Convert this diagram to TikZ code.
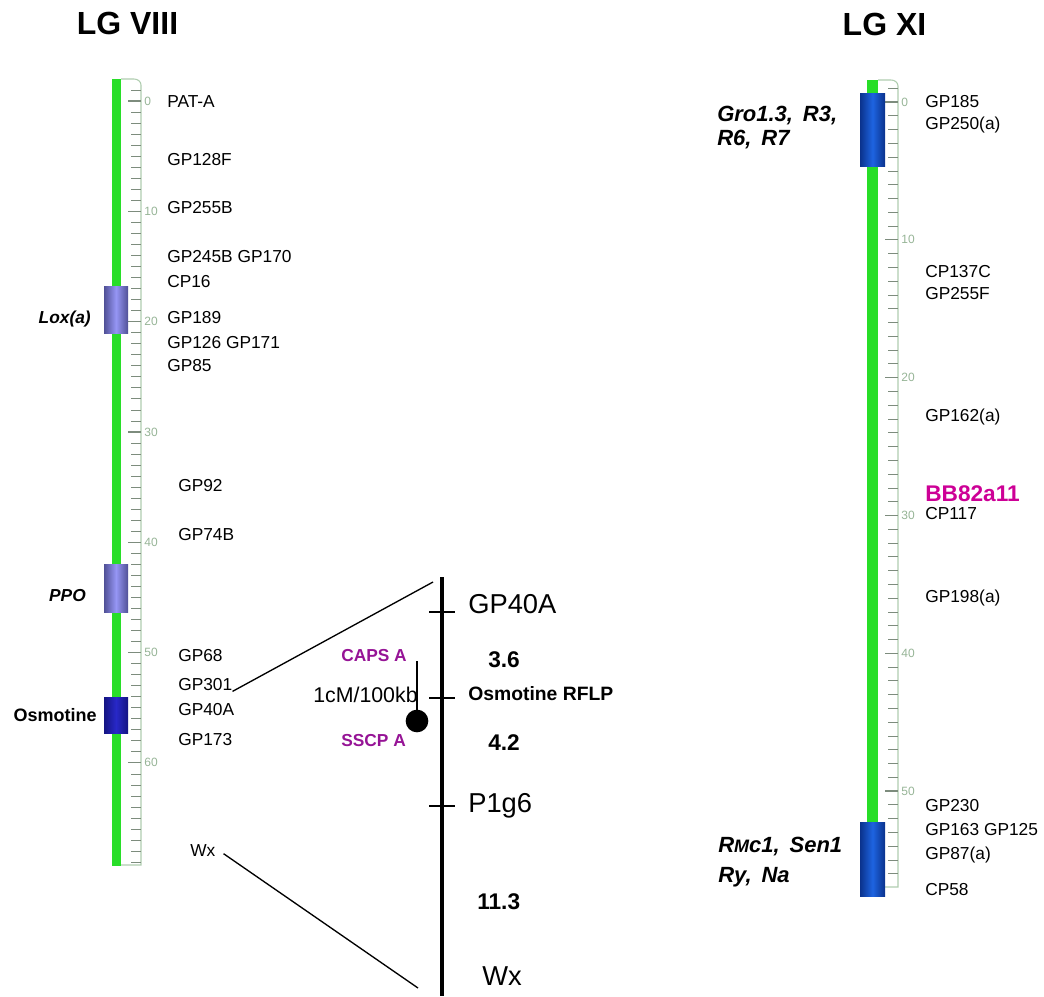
\documentclass[tikz,border=0pt]{standalone}
\usepackage{fontspec}
\setmainfont{Liberation Sans}
\definecolor{chromgreen}{RGB}{40,222,40}
\definecolor{rulergreen}{RGB}{175,205,175}
\definecolor{tickgray}{RGB}{125,140,125}
\definecolor{numgreen}{RGB}{150,180,150}
\definecolor{paleedge}{RGB}{80,80,150}
\definecolor{palemid}{RGB}{150,150,245}
\definecolor{osmedge}{RGB}{20,20,130}
\definecolor{osmmid}{RGB}{40,40,200}
\definecolor{resedge}{RGB}{10,50,140}
\definecolor{resmid}{RGB}{30,100,225}
\definecolor{capspurple}{RGB}{150,20,150}
\definecolor{bbmagenta}{RGB}{205,0,150}
\tikzset{
  marker/.style={anchor=west,inner sep=0pt,font=\fontsize{13}{15}\selectfont},
  gene/.style={anchor=east,inner sep=0pt,font=\fontsize{13}{15}\selectfont\bfseries\itshape},
  resgene/.style={anchor=west,inner sep=0pt,font=\fontsize{16.5}{18}\selectfont\bfseries\itshape},
  cmnum/.style={anchor=west,inner sep=0pt,text=numgreen,font=\fontsize{9}{9}\selectfont},
  ruler/.style={draw=rulergreen,line width=0.8pt},
  tick/.style={draw=tickgray,line width=0.5pt},
  bigtick/.style={draw=tickgray,line width=1pt},
  zoomlabel/.style={anchor=west,inner sep=0pt,font=\fontsize{20.5}{22}\selectfont},
  dist/.style={anchor=west,inner sep=0pt,font=\fontsize{17}{19}\selectfont\bfseries},
  snplabel/.style={anchor=west,inner sep=0pt,text=capspurple,font=\fontsize{13}{15}\selectfont\bfseries},
  title/.style={inner sep=0pt,font=\fontsize{24}{28}\selectfont\bfseries}
}
\begin{document}
\begin{tikzpicture}[x=0.75pt,y=-0.75pt]
    \useasboundingbox (0,0) rectangle (1044,996);
    % titles
    \node[title] (lg8) at (127.5,23) {LG VIII};
    \node[title] (lg11) at (884.5,24) {LG XI};
    % LG VIII
    \fill[chromgreen] (112,79) rectangle (121,866);% chromosome bar
    \draw[ruler] (121,79) -- (134,79) to[out=0,in=90] (141,85) -- (141,865) -- (121,865);% ruler
    \foreach \c in {-1,...,69}
        \draw[tick] (131,{101+11.03*\c}) -- (141,{101+11.03*\c});
    \foreach \c in {0,10,...,60}
        \draw[bigtick] (128,{101+11.03*\c}) -- (141,{101+11.03*\c}) node[cmnum,xshift=2pt] (n8-\c) {\c};
    \shade[left color=paleedge,right color=paleedge,middle color=palemid] (104,286) rectangle (128,333);% Lox(a) box
    \shade[left color=paleedge,right color=paleedge,middle color=palemid] (104,564) rectangle (128,612);% PPO box
    \shade[left color=osmedge,right color=osmedge,middle color=osmmid] (104,697) rectangle (128,733);% Osmotine box
    \node[gene] (lox) at (91,319) {Lox(a)};
    \node[gene] (ppo) at (86,596) {PPO};
    \node[gene,font=\fontsize{13.5}{15}\selectfont\bfseries] (osm) at (97,715) {Osmotine};
    \node[marker] (pata) at (167,102) {PAT-A};
    \node[marker] (gp128f) at (167,160) {GP128F};
    \node[marker] (gp255b) at (167,208) {GP255B};
    \node[marker] (gp245b) at (167,257) {GP245B GP170};
    \node[marker] (cp16) at (167,282) {CP16};
    \node[marker] (gp189) at (167,318) {GP189};
    \node[marker] (gp126) at (167,343) {GP126 GP171};
    \node[marker] (gp85) at (167,366) {GP85};
    \node[marker] (gp92) at (178,486) {GP92};
    \node[marker] (gp74b) at (178,535) {GP74B};
    \node[marker] (gp68) at (178,656) {GP68};
    \node[marker] (gp301) at (178,685) {GP301};
    \node[marker] (gp40a) at (178,710) {GP40A};
    \node[marker] (gp173) at (178,740) {GP173};
    \node[marker] (wx) at (190,851) {Wx};
    % zoomed region
    \draw[line width=3pt] (442,577) -- (442,996);% map line
    \draw[line width=1.2pt] (429,612) -- (455,612);
    \draw[line width=1.2pt] (429,698) -- (455,698);
    \draw[line width=1.2pt] (429,806) -- (455,806);
    \coordinate (zoomtop) at (433,582);
    \coordinate (zoombot) at (418,988);
    \draw[line width=1pt] (gp301.south east) -- (zoomtop);
    \draw[line width=1pt] ([xshift=6pt,yshift=-2pt]wx.east) -- (zoombot);
    \node[zoomlabel] (zgp40a) at (468,604) {GP40A};
    \node[dist] (d36) at (488,660) {3.6};
    \node[anchor=west,inner sep=0pt,font=\fontsize{14.5}{16}\selectfont\bfseries] (rflp) at (468,694) {Osmotine RFLP};
    \node[dist] (d42) at (488,743) {4.2};
    \node[zoomlabel] (p1g6) at (468,806) {P1g6};
    \node[dist] (d113) at (477,902) {11.3};
    \node[zoomlabel] (zwx) at (482,976) {Wx};
    \node[snplabel] (caps) at (341,656) {CAPS A};
    \node[snplabel] (sscp) at (341,741) {SSCP A};
    \node[anchor=west,inner sep=0pt,font=\fontsize{16}{18}\selectfont] (ratio) at (313,695) {1cM/100kb};
    \coordinate (stemtop) at (417,661);
    \node[circle,fill=black,minimum size=17pt,inner sep=0pt] (snp) at (417,721) {};
    \draw[line width=1pt] (stemtop) -- (snp.center);
    % LG XI
    \fill[chromgreen] (867,80) rectangle (878,888);% chromosome bar
    \draw[ruler] (878,80) -- (891,80) to[out=0,in=90] (898,86) -- (898,887) -- (878,887);% ruler
    \foreach \c in {-1,...,56}
        \draw[tick] (888,{102+13.78*\c}) -- (898,{102+13.78*\c});
    \foreach \c in {0,10,...,50}
        \draw[bigtick] (885,{102+13.78*\c}) -- (898,{102+13.78*\c}) node[cmnum,xshift=2pt] (n11-\c) {\c};
    \shade[left color=resedge,right color=resedge,middle color=resmid] (860,93) rectangle (885,166);% Gro1.3 box
    \shade[left color=resedge,right color=resedge,middle color=resmid] (860,822) rectangle (885,896);% Rmc1 box
    \node[resgene] (gro) at (717,116) {Gro1.3,\hspace{0.45em}R3,};
    \node[resgene] (r6) at (717,140) {R6,\hspace{0.45em}R7};
    \node[resgene] (rmc) at (718,847) {R{\fontsize{13.5}{13.5}\selectfont M}c1,\hspace{0.45em}Sen1};
    \node[resgene] (ry) at (718,877) {Ry,\hspace{0.45em}Na};
    \node[marker] (gp185) at (925,102) {GP185};
    \node[marker] (gp250a) at (925,125) {GP250(a)};
    \node[marker] (cp137c) at (925,272) {CP137C};
    \node[marker] (gp255f) at (925,294) {GP255F};
    \node[marker] (gp162a) at (925,417) {GP162(a)};
    \node[anchor=west,inner sep=0pt,text=bbmagenta,font=\fontsize{17}{19}\selectfont\bfseries] (bb82) at (925,494) {BB82a11};
    \node[marker] (cp117) at (925,514) {CP117};
    \node[marker] (gp198a) at (925,598) {GP198(a)};
    \node[marker] (gp230) at (925,806) {GP230};
    \node[marker] (gp163) at (925,830) {GP163 GP125};
    \node[marker] (gp87a) at (925,855) {GP87(a)};
    \node[marker] (cp58) at (925,890) {CP58};
\end{tikzpicture}
\end{document}
